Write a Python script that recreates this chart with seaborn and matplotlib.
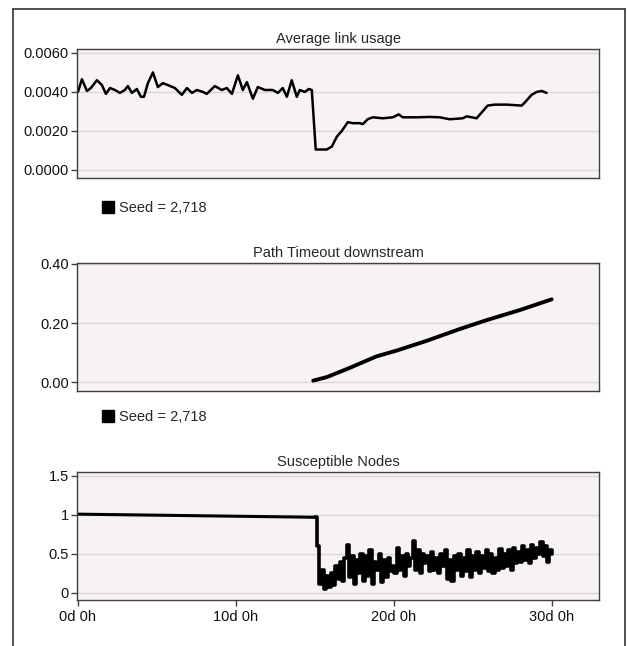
import numpy as np
import pandas as pd
import matplotlib
matplotlib.use("Agg")
import matplotlib.pyplot as plt
from matplotlib.lines import Line2D
import seaborn as sns

# Average link usage (day, value)
usage_days = [0.0, 0.25, 0.57, 0.82, 1.2, 1.52, 1.77, 2.03, 2.34, 2.66, 2.97, 3.16, 3.42,
              3.73, 3.99, 4.18, 4.43, 4.75, 5.06, 5.38, 5.70, 6.14, 6.58, 6.90, 7.22, 7.53,
              7.91, 8.16, 8.67, 9.11, 9.43, 9.75, 10.13, 10.44, 10.70, 11.08, 11.39, 11.84,
              12.34, 12.66, 12.97, 13.23, 13.54, 13.86, 14.05, 14.37, 14.62, 14.81, 15.06,
              15.32, 15.76, 16.08, 16.39, 16.71, 17.09, 17.41, 17.85, 18.04, 18.35, 18.67,
              19.30, 19.94, 20.32, 20.57, 21.46, 22.28, 22.91, 23.54, 24.37, 24.62, 24.94,
              25.25, 25.57, 25.95, 26.39, 27.15, 28.10, 28.29, 28.73, 29.05, 29.37, 29.68]
usage_vals = [0.0040, 0.00465, 0.00405, 0.0042, 0.0046, 0.00435, 0.0039, 0.0042, 0.0041,
              0.00395, 0.0041, 0.0043, 0.00395, 0.00415, 0.00375, 0.00375, 0.00445, 0.0050,
              0.00425, 0.00445, 0.00435, 0.0042, 0.00385, 0.0042, 0.00395, 0.0041, 0.0040,
              0.0039, 0.0043, 0.0041, 0.0042, 0.0039, 0.00485, 0.0041, 0.0045, 0.00365,
              0.00425, 0.0041, 0.0041, 0.00395, 0.0042, 0.00375, 0.0046, 0.00375, 0.0041,
              0.0040, 0.00415, 0.0041, 0.00105, 0.00105, 0.00105, 0.0012, 0.0017, 0.0020,
              0.00245, 0.0024, 0.0024, 0.00235, 0.0026, 0.0027, 0.00265, 0.0027, 0.00285,
              0.0027, 0.0027, 0.00272, 0.0027, 0.0026, 0.00265, 0.00275, 0.0027, 0.00265,
              0.00295, 0.0033, 0.00335, 0.00335, 0.0033, 0.00345, 0.00385, 0.0040, 0.00405,
              0.00395]

# Path Timeout downstream
timeout_days = [14.9, 15.76, 17.2, 18.9, 20.2, 22.1, 24.2, 25.9, 28.0, 30.0]
timeout_vals = [0.005, 0.017, 0.048, 0.087, 0.107, 0.14, 0.18, 0.21, 0.244, 0.28]

# Susceptible Nodes: slow decline, then noisy part sampled on a regular time grid
nodes_flat_days = [0.0, 15.0]
nodes_flat_vals = [1.01, 0.97]
nodes_noisy_vals = [0.97, 0.60, 0.12, 0.30, 0.05, 0.22, 0.08,
                    0.25, 0.10, 0.35, 0.18, 0.40, 0.15, 0.45,
                    0.62, 0.20, 0.48, 0.12, 0.42, 0.25, 0.50,
                    0.15, 0.48, 0.22, 0.55, 0.12, 0.40, 0.30,
                    0.50, 0.14, 0.42, 0.20, 0.45, 0.28, 0.35,
                    0.25, 0.58, 0.30, 0.48, 0.22, 0.50, 0.35,
                    0.45, 0.66, 0.30, 0.55, 0.25, 0.50, 0.38,
                    0.48, 0.28, 0.52, 0.30, 0.45, 0.25, 0.50,
                    0.35, 0.55, 0.18, 0.42, 0.15, 0.48, 0.30,
                    0.50, 0.22, 0.45, 0.28, 0.55, 0.20, 0.48,
                    0.30, 0.52, 0.25, 0.48, 0.32, 0.55, 0.28,
                    0.50, 0.25, 0.45, 0.30, 0.56, 0.32, 0.50,
                    0.35, 0.55, 0.30, 0.58, 0.38, 0.52, 0.40,
                    0.60, 0.42, 0.55, 0.38, 0.62, 0.45, 0.58,
                    0.50, 0.65, 0.48, 0.60, 0.40, 0.55, 0.50]
nodes_noisy_days = np.linspace(15.0, 30.0, len(nodes_noisy_vals))

x_ticks = [0, 10, 20, 30]
x_tick_labels = ["0d 0h", "10d 0h", "20d 0h", "30d 0h"]
legend_label = "Seed = 2,718"

sns.set_theme(style="white")
plt.rcParams['font.family'] = ['Liberation Sans', 'DejaVu Sans']

FACE = "#f6f2f6"
GRID = "#dcd6dc"
SPINE = "#404040"
FS = 10.5

fig = plt.figure(figsize=(6.27, 6.46), dpi=100)

def style_axes(ax, title, yticks, ylabels, ylim, show_x=False):
    ax.set_facecolor(FACE)
    ax.set_xlim(-0.06, 33.0)
    ax.set_ylim(*ylim)
    ax.set_yticks(yticks)
    ax.set_yticklabels(ylabels)
    ax.set_title(title, fontsize=FS, pad=4)
    ax.set_xlabel("")
    ax.set_ylabel("")
    for y in yticks:
        ax.axhline(y, color=GRID, lw=1.0, zorder=0)
    for s in ax.spines.values():
        s.set_color(SPINE)
        s.set_linewidth(1.0)
    ax.tick_params(axis="y", left=True, length=4, width=1, color=SPINE, labelsize=FS, pad=2,
                   labelcolor="#111111")
    if show_x:
        ax.set_xticks(x_ticks)
        ax.set_xticklabels(x_tick_labels)
        ax.tick_params(axis="x", bottom=True, length=4, width=1, color=SPINE, labelsize=FS,
                       pad=3, labelcolor="#111111")
    else:
        ax.set_xticks([])

def add_legend(ax, y):
    handle = Line2D([], [], marker="s", color="black", linestyle="", markersize=8)
    ax.legend(handles=[handle], labels=[legend_label], loc="center left",
              bbox_to_anchor=(93 / 627, 1 - y / 646), bbox_transform=fig.transFigure,
              frameon=False, handletextpad=0.3, handlelength=1.0, fontsize=FS, borderpad=0)

# Panel 1
ax1 = fig.add_axes([77 / 627, 1 - 178 / 646, 522 / 627, 129 / 646])
df1 = pd.DataFrame({"day": usage_days, "value": usage_vals})
sns.lineplot(data=df1, x="day", y="value", ax=ax1, color="black", lw=1.8, legend=False)
style_axes(ax1, "Average link usage", [0.0, 0.002, 0.004, 0.006],
           ["0.0000", "0.0020", "0.0040", "0.0060"], (-0.00041, 0.0062))
add_legend(ax1, 208)

# Panel 2
ax2 = fig.add_axes([77 / 627, 1 - 391 / 646, 522 / 627, 128 / 646])
df2 = pd.DataFrame({"day": timeout_days, "value": timeout_vals})
sns.lineplot(data=df2, x="day", y="value", ax=ax2, color="black", lw=2.8, legend=False)
style_axes(ax2, "Path Timeout downstream", [0.0, 0.2, 0.4],
           ["0.00", "0.20", "0.40"], (-0.03, 0.403))
add_legend(ax2, 417)

# Panel 3
ax3 = fig.add_axes([77 / 627, 1 - 600 / 646, 522 / 627, 128 / 646])
df3a = pd.DataFrame({"day": nodes_flat_days, "value": nodes_flat_vals})
df3b = pd.DataFrame({"day": nodes_noisy_days, "value": nodes_noisy_vals})
sns.lineplot(data=df3a, x="day", y="value", ax=ax3, color="black", lw=2.2, legend=False)
sns.lineplot(data=df3b, x="day", y="value", ax=ax3, color="black", lw=2.6, legend=False,
             sort=False, drawstyle="steps-post")
style_axes(ax3, "Susceptible Nodes", [0, 0.5, 1, 1.5], ["0", "0.5", "1", "1.5"],
           (-0.09, 1.55), show_x=True)

# outer frame
fc = "#333333"
fig.add_artist(Line2D([13 / 627, 13 / 627], [0, 1 - 9 / 646], color=fc, lw=1.2,
                      transform=fig.transFigure))
fig.add_artist(Line2D([625 / 627, 625 / 627], [0, 1 - 9 / 646], color=fc, lw=1.2,
                      transform=fig.transFigure))
fig.add_artist(Line2D([13 / 627, 625 / 627], [1 - 9 / 646, 1 - 9 / 646], color=fc, lw=1.2,
                      transform=fig.transFigure))

fig.savefig("out.png", dpi=100, facecolor="white")
